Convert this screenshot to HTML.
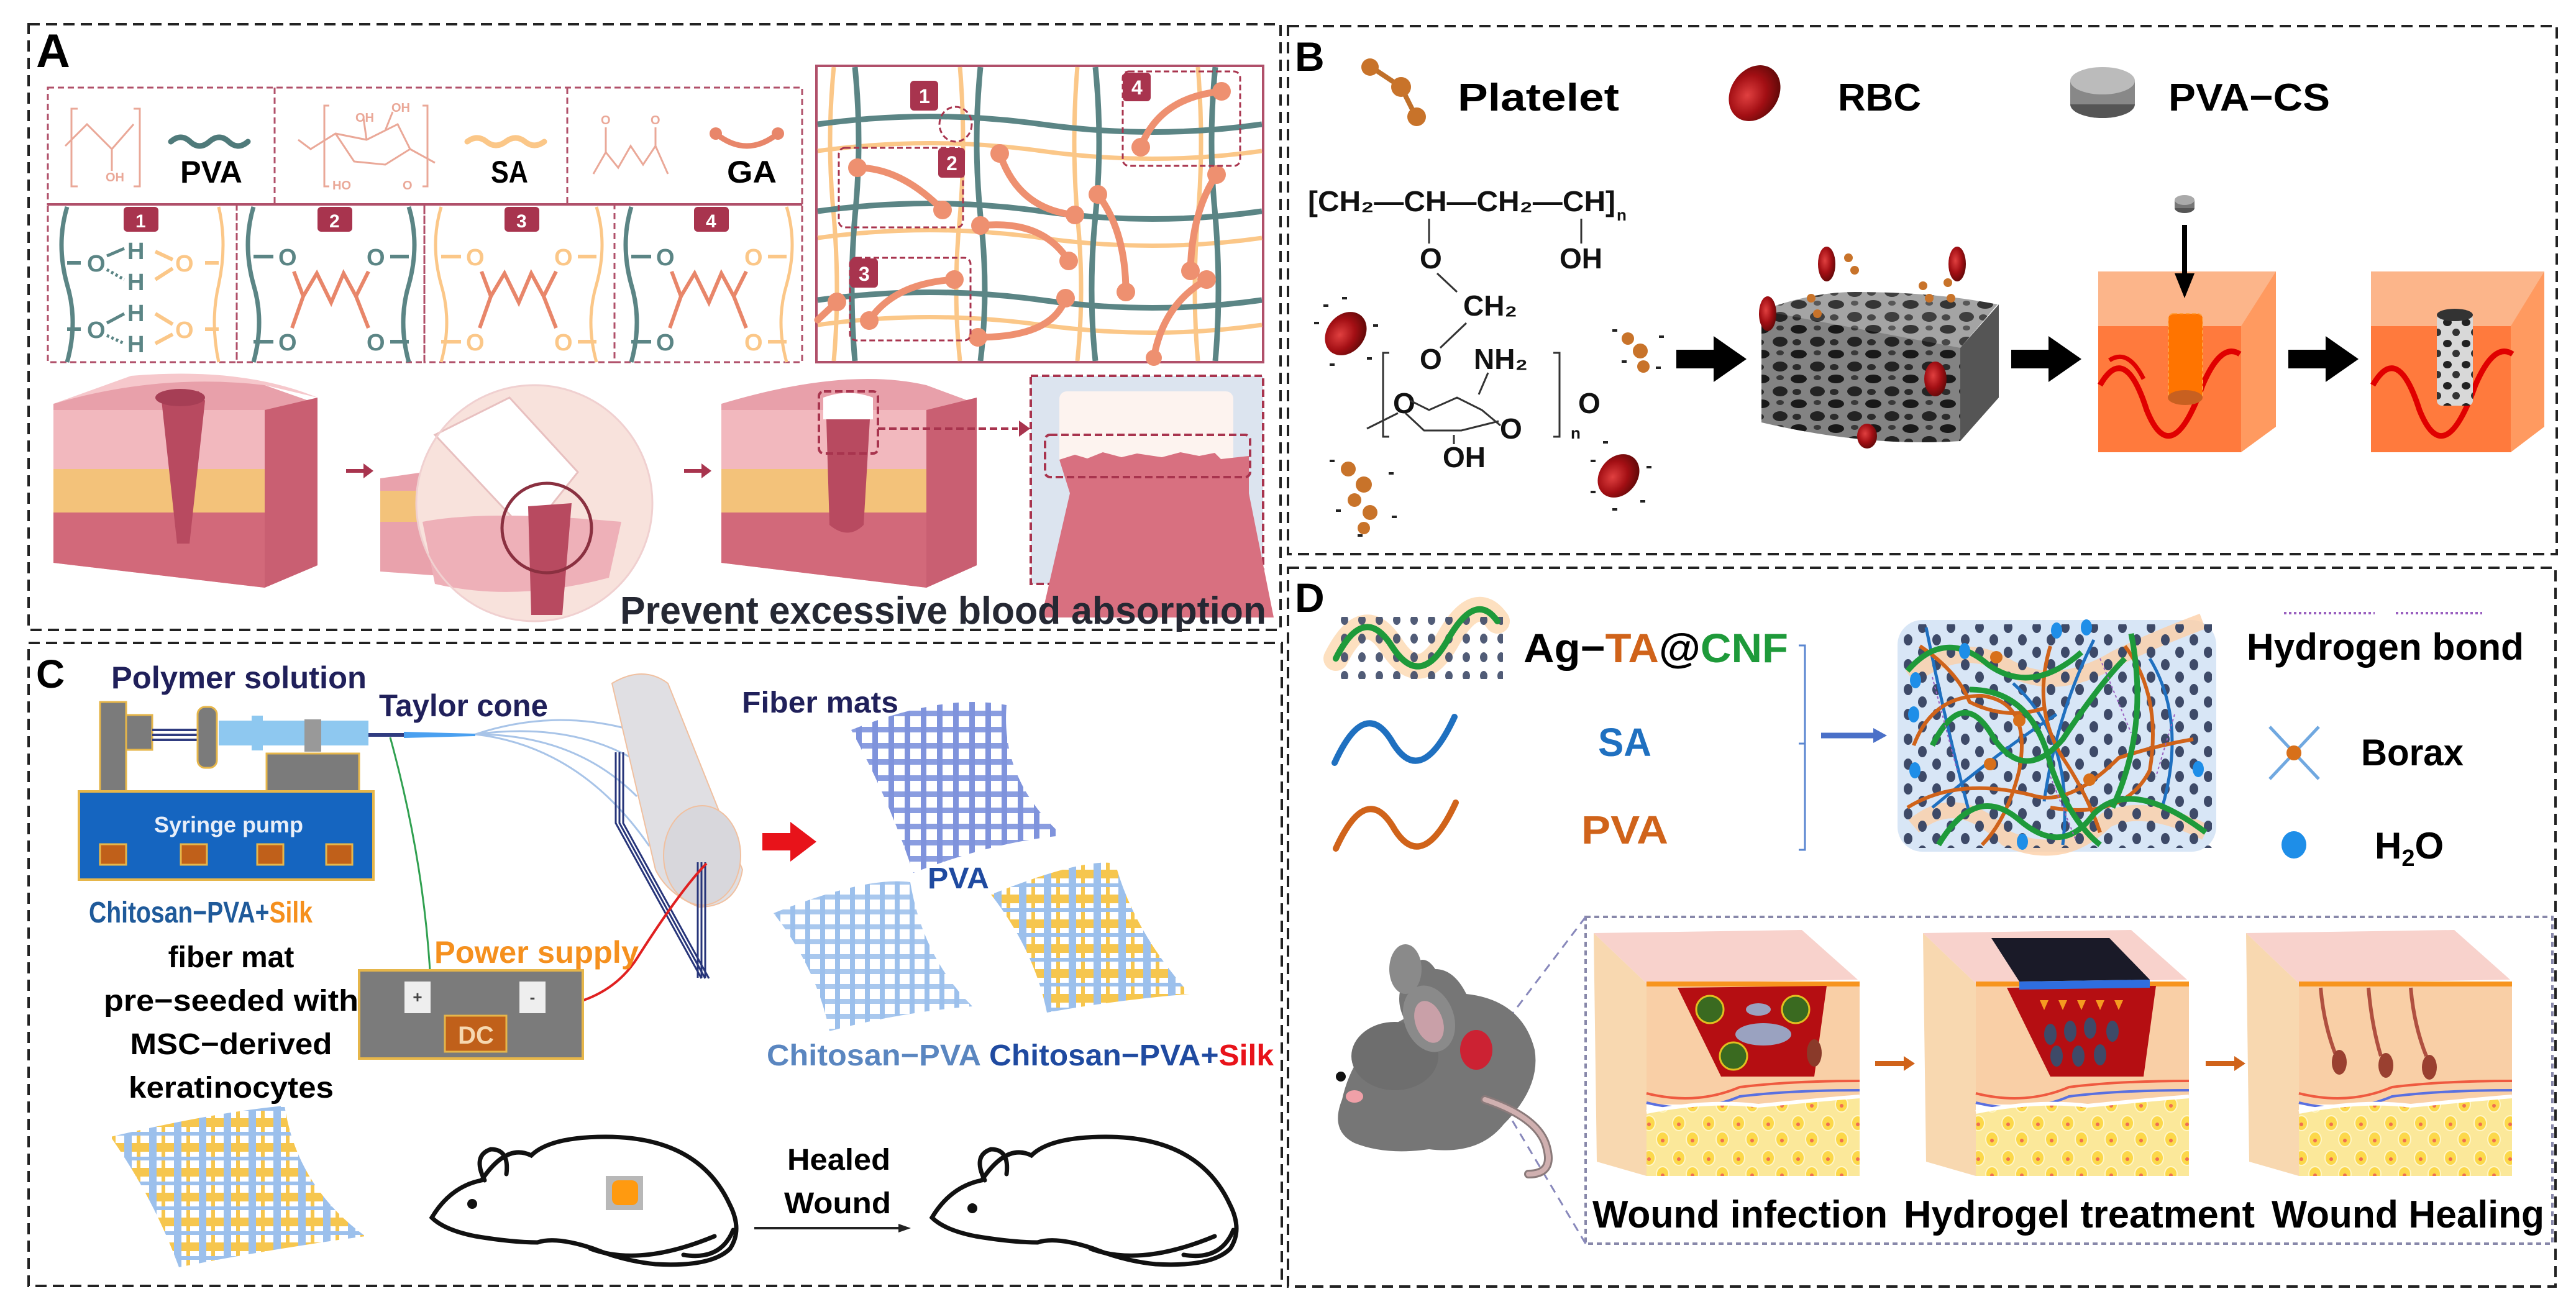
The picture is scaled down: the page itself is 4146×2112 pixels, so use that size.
<!DOCTYPE html>
<html><head><meta charset="utf-8"><style>
html,body{margin:0;padding:0;background:#fff}
svg{display:block}
text{font-family:"Liberation Sans",sans-serif;font-weight:bold}
</style></head><body>
<svg width="4146" height="2112" viewBox="0 0 4146 2112" xmlns="http://www.w3.org/2000/svg">
<defs>
<pattern id="fibB" width="26" height="26" patternUnits="userSpaceOnUse"><rect width="26" height="26" fill="none"/><rect x="0" y="0" width="26" height="9" fill="#8a9de0"/><rect x="0" y="0" width="9" height="26" fill="#7f93dc"/></pattern>
<pattern id="fibL" width="24" height="24" patternUnits="userSpaceOnUse"><rect x="0" y="0" width="24" height="8" fill="#a9c8ee"/><rect x="0" y="0" width="8" height="24" fill="#9cc0ec"/></pattern>
<pattern id="fibS" width="40" height="40" patternUnits="userSpaceOnUse"><rect width="40" height="40" fill="#fff"/><rect x="0" y="0" width="40" height="14" fill="#f6c64e"/><rect x="0" y="0" width="12" height="40" fill="#9cc0ec"/><rect x="20" y="0" width="6" height="40" fill="#f6c64e"/><rect x="0" y="22" width="40" height="6" fill="#9cc0ec"/></pattern>
<pattern id="sponge" width="60" height="40" patternUnits="userSpaceOnUse"><rect width="60" height="40" fill="#9a9a9a"/><ellipse cx="15" cy="10" rx="13" ry="7" fill="#1e1e1e"/><ellipse cx="45" cy="30" rx="12" ry="8" fill="#2a2a2a"/><ellipse cx="45" cy="8" rx="6" ry="4" fill="#444"/><ellipse cx="12" cy="31" rx="7" ry="5" fill="#333"/></pattern>
<pattern id="fat" width="48" height="56" patternUnits="userSpaceOnUse"><rect width="48" height="56" fill="#fbe89a"/><ellipse cx="14" cy="16" rx="10" ry="12" fill="#fcd84a" stroke="#fff6c8" stroke-width="2"/><ellipse cx="36" cy="42" rx="10" ry="12" fill="#fcd84a" stroke="#fff6c8" stroke-width="2"/><circle cx="14" cy="18" r="3" fill="#f07050"/><circle cx="36" cy="44" r="3" fill="#f07050"/></pattern>
<pattern id="gelDots" width="46" height="40" patternUnits="userSpaceOnUse"><ellipse cx="12" cy="10" rx="7" ry="9" fill="#3e4a68"/><ellipse cx="35" cy="30" rx="7" ry="9" fill="#3e4a68"/></pattern>
<pattern id="agdots" width="28" height="30" patternUnits="userSpaceOnUse"><ellipse cx="8" cy="8" rx="6" ry="8" fill="#3e4a68"/></pattern>
<pattern id="porous" width="30" height="34" patternUnits="userSpaceOnUse"><rect width="30" height="34" fill="#d8d8d8"/><ellipse cx="9" cy="9" rx="7" ry="6" fill="#222"/><ellipse cx="23" cy="25" rx="6" ry="6" fill="#333"/></pattern>
<radialGradient id="rbc" cx="0.4" cy="0.4" r="0.6"><stop offset="0" stop-color="#e04040"/><stop offset="0.6" stop-color="#a30f14"/><stop offset="1" stop-color="#6a0a0a"/></radialGradient>
</defs>

<!-- ======== PANEL A ======== -->
<rect x="46" y="39" width="2015" height="975" fill="none" stroke="#222" stroke-width="4" stroke-dasharray="18 10"/>
<text x="58" y="108" font-size="76">A</text>
<!-- chem top boxes -->
<g fill="none" stroke="#b0506a" stroke-width="3" stroke-dasharray="10 6">
<rect x="77" y="141" width="1214" height="188"/>
<line x1="442" y1="141" x2="442" y2="329"/><line x1="913" y1="141" x2="913" y2="329"/>
<rect x="77" y="329" width="304" height="254"/><rect x="381" y="329" width="302" height="254"/><rect x="683" y="329" width="306" height="254"/><rect x="989" y="329" width="302" height="254"/>
</g>
<line x1="77" y1="329" x2="1291" y2="329" stroke="#b0506a" stroke-width="4"/>
<!-- PVA chem -->
<g stroke="#eaa898" stroke-width="3" fill="none">
<path d="M125 175 L115 175 L115 300 L125 300"/><path d="M215 175 L225 175 L225 300 L215 300"/>
<path d="M105 235 L140 200 L180 240 L215 200"/><line x1="180" y1="240" x2="180" y2="275"/>
</g>
<text x="170" y="292" font-size="20" fill="#eaa898" font-weight="normal">OH</text>
<path d="M275 228 q16 -14 31 0 t31 0 t31 0 t31 0" stroke="#4f7a7a" stroke-width="9" fill="none" stroke-linecap="round"/>
<text x="290" y="294" font-size="50" textLength="100" lengthAdjust="spacingAndGlyphs">PVA</text>
<!-- SA chem -->
<g stroke="#eaa898" stroke-width="3" fill="none">
<path d="M530 170 L522 170 L522 300 L530 300"/><path d="M680 170 L688 170 L688 300 L680 300"/>
<path d="M480 225 L500 240 L540 215 L590 225 L640 200 L660 240 L620 265 L570 260 L540 215"/>
<line x1="660" y1="240" x2="700" y2="262"/><line x1="590" y1="225" x2="585" y2="190"/><line x1="620" y1="210" x2="632" y2="180"/>
</g>
<text x="572" y="196" font-size="20" fill="#eaa898" font-weight="normal">OH</text><text x="630" y="180" font-size="20" fill="#eaa898" font-weight="normal">OH</text>
<text x="535" y="305" font-size="20" fill="#eaa898" font-weight="normal">HO</text><text x="648" y="305" font-size="20" fill="#eaa898" font-weight="normal">O</text>
<path d="M752 228 q16 -12 31 0 t31 0 t31 0 t31 0" stroke="#fbc788" stroke-width="9" fill="none" stroke-linecap="round"/>
<text x="790" y="294" font-size="50" textLength="60" lengthAdjust="spacingAndGlyphs">SA</text>
<!-- GA chem -->
<g stroke="#eaa898" stroke-width="3" fill="none">
<path d="M955 280 L975 245 L995 270 L1015 235 L1035 265 L1055 235 L1075 280"/><line x1="975" y1="245" x2="975" y2="205"/><line x1="1055" y1="235" x2="1055" y2="205"/>
</g>
<text x="967" y="200" font-size="20" fill="#eaa898" font-weight="normal">O</text><text x="1047" y="200" font-size="20" fill="#eaa898" font-weight="normal">O</text>
<path d="M1152 215 q50 40 100 0" stroke="#e8866a" stroke-width="9" fill="none"/><circle cx="1152" cy="215" r="10" fill="#e8866a"/><circle cx="1252" cy="215" r="10" fill="#e8866a"/>
<text x="1170" y="294" font-size="50" textLength="80" lengthAdjust="spacingAndGlyphs">GA</text>
<!-- badges -->
<g fill="#a8344e"><rect x="199" y="333" width="56" height="40" rx="6"/><rect x="511" y="333" width="56" height="40" rx="6"/><rect x="812" y="333" width="56" height="40" rx="6"/><rect x="1117" y="333" width="56" height="40" rx="6"/></g>
<g fill="#fff" font-size="30"><text x="218" y="366">1</text><text x="530" y="366">2</text><text x="831" y="366">3</text><text x="1136" y="366">4</text></g>
<!-- box1 -->
<path d="M108 333 q-18 60 0 125 q18 60 0 125" stroke="#5b8585" stroke-width="7" fill="none"/>
<path d="M352 333 q14 60 0 125 q-14 60 0 125" stroke="#fbc788" stroke-width="5" fill="none"/>
<g stroke="#5b8585" stroke-width="6"><line x1="108" y1="423" x2="130" y2="423"/><line x1="108" y1="530" x2="130" y2="530"/></g>
<g stroke="#fbc788" stroke-width="6"><line x1="330" y1="423" x2="352" y2="423"/><line x1="330" y1="530" x2="352" y2="530"/><line x1="250" y1="405" x2="278" y2="418"/><line x1="250" y1="450" x2="278" y2="432"/><line x1="250" y1="505" x2="278" y2="522"/><line x1="250" y1="553" x2="278" y2="538"/></g>
<g stroke="#5b8585" stroke-width="5"><line x1="172" y1="412" x2="200" y2="400"/><line x1="172" y1="520" x2="200" y2="505"/></g>
<g stroke="#5b8585" stroke-width="5" stroke-dasharray="4 4"><line x1="172" y1="434" x2="200" y2="450"/><line x1="172" y1="540" x2="200" y2="553"/></g>
<g font-size="38" fill="#5b8585" font-weight="normal"><text x="140" y="437">O</text><text x="140" y="544">O</text><text x="205" y="417">H</text><text x="205" y="467">H</text><text x="205" y="517">H</text><text x="205" y="567">H</text></g>
<g font-size="38" fill="#fbc788" font-weight="normal"><text x="282" y="437">O</text><text x="282" y="544">O</text></g>
<!-- zigzag boxes -->
<g id="zz">
<path d="M408 333 q-18 60 0 125 q18 60 0 125" stroke="#5b8585" stroke-width="7" fill="none"/>
<path d="M658 333 q18 60 0 125 q-18 60 0 125" stroke="#5b8585" stroke-width="7" fill="none"/>
<g stroke="#5b8585" stroke-width="6"><line x1="408" y1="413" x2="440" y2="413"/><line x1="408" y1="550" x2="440" y2="550"/><line x1="628" y1="413" x2="658" y2="413"/><line x1="628" y1="550" x2="658" y2="550"/></g>
<g font-size="38" fill="#5b8585" font-weight="normal"><text x="448" y="427">O</text><text x="448" y="564">O</text><text x="590" y="427">O</text><text x="590" y="564">O</text></g>
<polyline points="473,437 488,477 470,528" fill="none" stroke="#e8866a" stroke-width="6"/>
<polyline points="488,477 510,440 533,487 553,440 573,477 593,437" fill="none" stroke="#e8866a" stroke-width="6"/>
<polyline points="573,477 593,528" fill="none" stroke="#e8866a" stroke-width="6"/>
</g>
<g transform="translate(302 0)">
<path d="M408 333 q-18 60 0 125 q18 60 0 125" stroke="#fbc788" stroke-width="5" fill="none"/>
<path d="M658 333 q18 60 0 125 q-18 60 0 125" stroke="#fbc788" stroke-width="5" fill="none"/>
<g stroke="#fbc788" stroke-width="6"><line x1="408" y1="413" x2="440" y2="413"/><line x1="408" y1="550" x2="440" y2="550"/><line x1="628" y1="413" x2="658" y2="413"/><line x1="628" y1="550" x2="658" y2="550"/></g>
<g font-size="38" fill="#fbc788" font-weight="normal"><text x="448" y="427">O</text><text x="448" y="564">O</text><text x="590" y="427">O</text><text x="590" y="564">O</text></g>
<polyline points="473,437 488,477 470,528" fill="none" stroke="#e8866a" stroke-width="6"/>
<polyline points="488,477 510,440 533,487 553,440 573,477 593,437" fill="none" stroke="#e8866a" stroke-width="6"/>
<polyline points="573,477 593,528" fill="none" stroke="#e8866a" stroke-width="6"/>
</g>
<g transform="translate(608 0)">
<path d="M408 333 q-18 60 0 125 q18 60 0 125" stroke="#5b8585" stroke-width="7" fill="none"/>
<path d="M658 333 q18 60 0 125 q-18 60 0 125" stroke="#fbc788" stroke-width="5" fill="none"/>
<g stroke="#5b8585" stroke-width="6"><line x1="408" y1="413" x2="440" y2="413"/><line x1="408" y1="550" x2="440" y2="550"/></g>
<g stroke="#fbc788" stroke-width="6"><line x1="628" y1="413" x2="658" y2="413"/><line x1="628" y1="550" x2="658" y2="550"/></g>
<g font-size="38" font-weight="normal"><text x="448" y="427" fill="#5b8585">O</text><text x="448" y="564" fill="#5b8585">O</text><text x="590" y="427" fill="#fbc788">O</text><text x="590" y="564" fill="#fbc788">O</text></g>
<polyline points="473,437 488,477 470,528" fill="none" stroke="#e8866a" stroke-width="6"/>
<polyline points="488,477 510,440 533,487 553,440 573,477 593,437" fill="none" stroke="#e8866a" stroke-width="6"/>
<polyline points="573,477 593,528" fill="none" stroke="#e8866a" stroke-width="6"/>
</g>
<!-- network box -->
<rect x="1314" y="106" width="719" height="477" fill="#fff" stroke="#b0506a" stroke-width="4"/>
<g fill="none" stroke="#fbc788" stroke-width="7">
<path d="M1342 108 q-12 120 0 240 q10 120 0 233"/><path d="M1545 108 q10 120 0 240 q-12 120 0 233"/><path d="M1734 108 q-10 120 0 240 q12 120 0 233"/><path d="M1928 108 q10 120 0 240 q-10 120 0 233"/>
<path d="M1316 243 q180 -25 360 0 t355 0"/><path d="M1316 383 q180 -25 360 0 t355 0"/><path d="M1316 523 q180 -25 360 0 t355 0"/>
</g>
<g fill="none" stroke="#5b8585" stroke-width="9">
<path d="M1376 108 q12 120 0 240 q-10 120 0 233"/><path d="M1578 108 q-12 120 0 240 q14 120 0 233"/><path d="M1763 108 q12 120 0 240 q-12 120 0 233"/><path d="M1956 108 q-12 120 0 240 q10 120 0 233"/>
<path d="M1316 200 q180 -25 360 0 t355 0"/><path d="M1316 340 q180 -25 360 0 t355 0"/><path d="M1316 483 q180 -25 360 0 t355 0"/>
</g>
<g fill="none" stroke="#ee9070" stroke-width="11" stroke-linecap="round">
<path d="M1380 270 q70 0 137 68"/><path d="M1609 247 q30 90 121 99"/><path d="M1578 363 q100 -10 142 57"/><path d="M1767 313 q45 60 45 157"/><path d="M1958 281 q-40 60 -42 155"/><path d="M1836 237 q30 -80 130 -90"/><path d="M1399 516 q40 -60 137 -66"/><path d="M1574 543 q120 0 141 -63"/><path d="M1942 450 q-70 40 -85 126"/><path d="M1316 515 l31 -29"/>
</g>
<g fill="#ee9070">
<circle cx="1380" cy="270" r="15"/><circle cx="1517" cy="338" r="15"/><circle cx="1609" cy="247" r="15"/><circle cx="1730" cy="346" r="15"/><circle cx="1578" cy="363" r="15"/><circle cx="1720" cy="420" r="15"/><circle cx="1767" cy="313" r="15"/><circle cx="1812" cy="470" r="15"/><circle cx="1958" cy="281" r="15"/><circle cx="1916" cy="436" r="15"/><circle cx="1836" cy="237" r="15"/><circle cx="1966" cy="147" r="15"/><circle cx="1399" cy="516" r="15"/><circle cx="1536" cy="450" r="15"/><circle cx="1574" cy="543" r="15"/><circle cx="1715" cy="480" r="15"/><circle cx="1942" cy="450" r="15"/><circle cx="1857" cy="576" r="13"/><circle cx="1347" cy="486" r="15"/>
</g>
<g fill="none" stroke="#a8344e" stroke-width="3" stroke-dasharray="9 5">
<rect x="1350" y="238" width="200" height="128" rx="10"/><rect x="1368" y="415" width="194" height="133" rx="10"/><rect x="1807" y="115" width="189" height="152" rx="10"/><ellipse cx="1538" cy="200" rx="26" ry="28"/>
</g>
<g fill="#a8344e"><rect x="1465" y="130" width="45" height="48" rx="6"/><rect x="1510" y="238" width="43" height="48" rx="6"/><rect x="1368" y="416" width="45" height="47" rx="6"/><rect x="1807" y="117" width="45" height="46" rx="6"/></g>
<g fill="#fff" font-size="32"><text x="1479" y="166">1</text><text x="1523" y="274">2</text><text x="1382" y="452">3</text><text x="1821" y="152">4</text></g>
<!-- skin illustrations A -->
<g>
<path d="M86 650 q200 -60 340 -30 l85 30 l0 260 l-85 36 l-340 -40z" fill="#e8a0aa"/>
<path d="M86 650 q170 -50 340 -30 l85 20 q-120 -50 -300 -35z" fill="#f6c8cc"/>
<rect x="86" y="660" width="340" height="95" fill="#f2b8be"/>
<rect x="86" y="755" width="340" height="70" fill="#f3c27a"/>
<path d="M86 825 l340 0 l0 121 l-340 -40z" fill="#d2697a"/>
<path d="M426 660 l85 -20 l0 270 l-85 36z" fill="#c95f72"/>
<path d="M320 630 q-40 0 -60 15 l25 230 l20 0 l25 -230 q-10 -15 -10 -15z" fill="#b84a60"/>
<ellipse cx="290" cy="640" rx="40" ry="14" fill="#a63e55"/>
</g>
<path d="M557 758 l30 0" stroke="#a8344e" stroke-width="6"/><path d="M585 746 l16 12 l-16 12z" fill="#a8344e"/>
<g>
<path d="M612 770 l140 -20 l0 180 l-140 -10z" fill="#e9a2ac"/>
<rect x="612" y="790" width="140" height="50" fill="#f3c27a"/>
<circle cx="860" cy="810" r="190" fill="#f8e2dc"/>
<path d="M700 700 l120 -60 l110 120 l-80 100z" fill="#fff" stroke="#e8c0c0" stroke-width="3"/>
<path d="M680 840 q100 -20 320 0 l-20 90 q-150 40 -280 10z" fill="#eeb0b8"/>
<path d="M850 815 l70 -5 l-15 180 l-50 0z" fill="#b84a60"/>
<circle cx="880" cy="850" r="72" fill="none" stroke="#8a3040" stroke-width="5"/>
<circle cx="860" cy="810" r="190" fill="none" stroke="#f0d0d0" stroke-width="3"/>
</g>
<path d="M1101 758 l30 0" stroke="#a8344e" stroke-width="6"/><path d="M1129 746 l16 12 l-16 12z" fill="#a8344e"/>
<g>
<path d="M1161 650 q200 -60 330 -30 l81 30 l0 260 l-81 36 l-330 -40z" fill="#e8a0aa"/>
<rect x="1161" y="660" width="330" height="95" fill="#f2b8be"/>
<rect x="1161" y="755" width="330" height="70" fill="#f3c27a"/>
<path d="M1161 825 l330 0 l0 121 l-330 -40z" fill="#d2697a"/>
<path d="M1491 660 l81 -20 l0 270 l-81 36z" fill="#c95f72"/>
<path d="M1400 675 l-70 0 l5 170 q30 25 55 0z" fill="#b84a60"/>
<path d="M1325 640 q40 -15 80 0 l0 35 l-80 0z" fill="#fff"/>
<rect x="1318" y="630" width="95" height="100" rx="8" fill="none" stroke="#a8344e" stroke-width="4" stroke-dasharray="12 6"/>
<path d="M1413 690 l225 0" stroke="#a8344e" stroke-width="4" stroke-dasharray="12 6"/><path d="M1640 677 l18 13 l-18 13z" fill="#a8344e"/>
</g>
<rect x="1659" y="605" width="374" height="335" fill="#dce4ef" stroke="#a8344e" stroke-width="4" stroke-dasharray="12 6"/>
<rect x="1705" y="630" width="280" height="120" rx="12" fill="#fdf3ef"/>
<path d="M1705 740 l25 -8 l20 6 l25 -10 l30 8 l25 -6 l40 6 l30 -8 l30 6 l25 -5 l10 10 l45 -5 l0 60 l40 200 l-374 0 l46 -200z" fill="#d87080"/>
<rect x="1682" y="700" width="330" height="68" rx="8" fill="none" stroke="#a8344e" stroke-width="4" stroke-dasharray="12 6"/>
<text x="998" y="1004" font-size="62" fill="#252833" textLength="1040" lengthAdjust="spacingAndGlyphs">Prevent excessive blood absorption</text>

<!-- ======== PANEL B ======== -->
<rect x="2073" y="42" width="2042" height="850" fill="none" stroke="#222" stroke-width="4" stroke-dasharray="18 10"/>
<text x="2084" y="114" font-size="66">B</text>
<!-- platelet icon -->
<g stroke="#c0702a" stroke-width="8"><line x1="2210" y1="110" x2="2255" y2="140"/><line x1="2255" y1="140" x2="2275" y2="180"/></g>
<g fill="#c8732a"><circle cx="2205" cy="108" r="14"/><circle cx="2255" cy="140" r="16"/><circle cx="2280" cy="188" r="15"/></g>
<text x="2346" y="178" font-size="62" textLength="260" lengthAdjust="spacingAndGlyphs">Platelet</text>
<ellipse cx="2824" cy="150" rx="48" ry="38" fill="url(#rbc)" transform="rotate(-55 2824 150)"/>
<text x="2958" y="178" font-size="62" textLength="134" lengthAdjust="spacingAndGlyphs">RBC</text>
<ellipse cx="3384" cy="168" rx="52" ry="22" fill="#555"/><rect x="3332" y="130" width="104" height="38" fill="#888"/><ellipse cx="3384" cy="130" rx="52" ry="22" fill="#bbb"/>
<text x="3490" y="178" font-size="62" textLength="260" lengthAdjust="spacingAndGlyphs">PVA−CS</text>
<!-- chemistry -->
<g font-family="Liberation Sans" font-size="46" font-weight="normal" fill="#111">
<text x="2105" y="340" textLength="495" lengthAdjust="spacingAndGlyphs">[CH₂—CH—CH₂—CH]</text><text x="2602" y="355" font-size="26">n</text>
<text x="2285" y="432">O</text><text x="2510" y="432">OH</text>
<text x="2355" y="508">CH₂</text>
<text x="2285" y="594">O</text><text x="2372" y="594">NH₂</text>
<text x="2242" y="665">O</text><text x="2414" y="706">O</text><text x="2540" y="665">O</text>
<text x="2322" y="752">OH</text><text x="2528" y="706" font-size="26">n</text>
</g>
<g stroke="#333" stroke-width="3" fill="none">
<line x1="2300" y1="352" x2="2300" y2="392"/><line x1="2545" y1="352" x2="2545" y2="392"/>
<line x1="2313" y1="440" x2="2345" y2="470"/><line x1="2360" y1="520" x2="2318" y2="560"/>
<path d="M2236 568 l-10 0 l0 135 l10 0"/><path d="M2500 568 l10 0 l0 135 l-10 0"/>
<path d="M2200 690 l50 -25 M2270 645 l30 15 l45 -20 l40 20 l30 25 M2262 665 l30 28 l60 0 l60 -15"/>
<line x1="2380" y1="635" x2="2395" y2="600"/><line x1="2340" y1="700" x2="2340" y2="715"/>
</g>
<!-- RBC & platelets with dashes -->
<ellipse cx="2166" cy="537" rx="38" ry="30" fill="url(#rbc)" transform="rotate(-50 2166 537)"/>
<ellipse cx="2605" cy="766" rx="38" ry="30" fill="url(#rbc)" transform="rotate(-50 2605 766)"/>
<g fill="#222"><rect x="2115" y="518" width="8" height="4"/><rect x="2210" y="522" width="8" height="4"/><rect x="2130" y="490" width="8" height="4"/><rect x="2200" y="575" width="8" height="4"/><rect x="2140" y="585" width="8" height="4"/><rect x="2160" y="478" width="8" height="4"/>
<rect x="2560" y="740" width="8" height="4"/><rect x="2650" y="750" width="8" height="4"/><rect x="2580" y="710" width="8" height="4"/><rect x="2640" y="805" width="8" height="4"/><rect x="2595" y="818" width="8" height="4"/><rect x="2560" y="790" width="8" height="4"/>
<rect x="2595" y="530" width="8" height="4"/><rect x="2670" y="540" width="8" height="4"/><rect x="2610" y="580" width="8" height="4"/><rect x="2665" y="590" width="8" height="4"/>
<rect x="2140" y="740" width="8" height="4"/><rect x="2235" y="760" width="8" height="4"/><rect x="2150" y="820" width="8" height="4"/><rect x="2240" y="830" width="8" height="4"/><rect x="2185" y="860" width="8" height="4"/></g>
<g fill="#c8732a"><circle cx="2620" cy="545" r="10"/><circle cx="2640" cy="565" r="12"/><circle cx="2645" cy="590" r="10"/>
<circle cx="2170" cy="755" r="12"/><circle cx="2195" cy="780" r="13"/><circle cx="2180" cy="805" r="11"/><circle cx="2205" cy="825" r="12"/><circle cx="2195" cy="850" r="10"/></g>
<!-- arrows -->
<g fill="#000"><path d="M2698 563 l60 0 l0 -22 l53 37 l-53 37 l0 -22 l-60 0z"/><path d="M3237 563 l60 0 l0 -22 l53 37 l-53 37 l0 -22 l-60 0z"/><path d="M3683 563 l60 0 l0 -22 l53 37 l-53 37 l0 -22 l-60 0z"/></g>
<!-- sponge -->
<path d="M2835 500 q80 -30 150 -30 q130 0 230 20 l-60 70 l-310 0z" fill="url(#sponge)" opacity="0.9"/>
<path d="M2835 500 l320 60 l0 150 q-150 10 -320 -30z" fill="url(#sponge)"/>
<path d="M3155 560 l62 -70 l0 150 l-62 70z" fill="#555"/>
<path d="M2835 500 l320 60 l0 150 q-150 10 -320 -30z" fill="#000" opacity="0.15"/>
<g><ellipse cx="2940" cy="425" rx="14" ry="28" fill="url(#rbc)"/><ellipse cx="3150" cy="425" rx="14" ry="28" fill="url(#rbc)"/><ellipse cx="2845" cy="505" rx="14" ry="28" fill="url(#rbc)"/><ellipse cx="3005" cy="702" rx="16" ry="20" fill="url(#rbc)"/><ellipse cx="3115" cy="610" rx="18" ry="28" fill="url(#rbc)"/></g>
<g fill="#c8732a"><circle cx="2975" cy="415" r="7"/><circle cx="2985" cy="435" r="7"/><circle cx="3095" cy="460" r="7"/><circle cx="3105" cy="480" r="7"/><circle cx="3135" cy="455" r="7"/><circle cx="3140" cy="480" r="7"/><circle cx="2915" cy="480" r="7"/><circle cx="2925" cy="505" r="7"/></g>
<!-- block 1 -->
<path d="M3377 525 l0 -88 l286 0 l0 88z" fill="#fcb58a"/>
<rect x="3377" y="525" width="230" height="203" fill="#ff7a3d"/>
<path d="M3607 525 l56 -88 l0 250 l-56 41z" fill="#ff9a60"/>
<path d="M3380 620 q40 -70 75 40 q40 100 90 -40 q30 -70 60 -50" fill="none" stroke="#e00000" stroke-width="9"/>
<path d="M3395 580 q30 -20 55 30" fill="none" stroke="#e00000" stroke-width="7"/>
<rect x="3490" y="505" width="55" height="140" rx="8" fill="#ff7400" stroke="#ffa040" stroke-width="2" stroke-dasharray="6 4"/>
<ellipse cx="3517" cy="640" rx="28" ry="12" fill="#c86020"/>
<ellipse cx="3516" cy="335" rx="16" ry="8" fill="#555"/><rect x="3500" y="322" width="32" height="13" fill="#777"/><ellipse cx="3516" cy="322" rx="16" ry="8" fill="#aaa"/>
<line x1="3516" y1="362" x2="3516" y2="445" stroke="#000" stroke-width="8"/><path d="M3500 440 l16 40 l16 -40z" fill="#000"/>
<!-- block 2 -->
<path d="M3816 525 l0 -88 l279 0 l0 88z" fill="#fcb58a"/>
<rect x="3816" y="525" width="225" height="203" fill="#ff7a3d"/>
<path d="M4041 525 l54 -88 l0 250 l-54 41z" fill="#ff9a60"/>
<path d="M3819 620 q40 -70 75 40 q40 100 90 -40 q30 -70 60 -50" fill="none" stroke="#e00000" stroke-width="9"/>
<rect x="3922" y="505" width="58" height="148" rx="8" fill="url(#porous)"/>
<ellipse cx="3951" cy="507" rx="29" ry="10" fill="#333"/>

<!-- ======== PANEL C ======== -->
<rect x="46" y="1035" width="2017" height="1035" fill="none" stroke="#222" stroke-width="4" stroke-dasharray="18 10"/>
<text x="58" y="1107" font-size="64">C</text>
<text x="179" y="1108" font-size="50" fill="#20205a" textLength="411" lengthAdjust="spacingAndGlyphs">Polymer solution</text>
<text x="610" y="1153" font-size="50" fill="#20205a" textLength="272" lengthAdjust="spacingAndGlyphs">Taylor cone</text>
<!-- pump -->
<rect x="161" y="1130" width="42" height="144" fill="#7b7b7b" stroke="#e6b64a" stroke-width="3"/>
<rect x="203" y="1151" width="42" height="56" fill="#7b7b7b" stroke="#e6b64a" stroke-width="3"/>
<g stroke="#303c80" stroke-width="4"><line x1="245" y1="1175" x2="322" y2="1175"/><line x1="245" y1="1183" x2="322" y2="1183"/><line x1="245" y1="1191" x2="322" y2="1191"/></g>
<rect x="318" y="1138" width="31" height="98" rx="12" fill="#7b7b7b" stroke="#e6b64a" stroke-width="3"/>
<rect x="352" y="1160" width="241" height="40" fill="#8ec8f0"/><rect x="405" y="1152" width="18" height="56" fill="#8ec8f0"/>
<rect x="490" y="1158" width="27" height="52" fill="#999"/>
<rect x="429" y="1213" width="149" height="61" fill="#7b7b7b" stroke="#e6b64a" stroke-width="3"/>
<rect x="127" y="1274" width="474" height="142" fill="#1565c0" stroke="#e6b64a" stroke-width="4"/>
<text x="368" y="1340" font-size="36" fill="#e8eef8" text-anchor="middle">Syringe pump</text>
<g fill="#c0601a" stroke="#e6b64a" stroke-width="3"><rect x="161" y="1359" width="42" height="33"/><rect x="291" y="1359" width="42" height="33"/><rect x="414" y="1359" width="42" height="33"/><rect x="525" y="1359" width="42" height="33"/></g>
<line x1="593" y1="1183" x2="650" y2="1183" stroke="#303c80" stroke-width="6"/>
<path d="M650 1178 l115 3 l0 4 l-115 3z" fill="#4aa0f0"/>
<!-- fibers -->
<g fill="none" stroke="#a8c4e8" stroke-width="3"><path d="M765 1182 q120 -40 240 -10"/><path d="M765 1182 q150 -20 255 40"/><path d="M765 1182 q160 0 260 100"/><path d="M765 1182 q170 20 280 180"/></g>
<!-- collector -->
<path d="M985 1100 q50 -30 90 0 l120 300 q-10 60 -70 60 q-50 -20 -70 -60z" fill="#e0dfe3" stroke="#f0c0a0" stroke-width="2"/>
<ellipse cx="1130" cy="1377" rx="62" ry="80" fill="#d8d7dc" stroke="#f0c0a0" stroke-width="2"/>
<g fill="none" stroke="#27357a" stroke-width="3"><path d="M991 1211 l0 114 l138 250 M997 1211 l0 114 l138 250 M1003 1211 l0 114 l138 250"/><path d="M1123 1388 l0 186 M1129 1388 l0 186 M1135 1388 l0 186"/></g>
<path d="M1227 1341 l45 0 l0 -18 l42 32 l-42 32 l0 -18 l-45 0z" fill="#e8131a"/>
<!-- wires -->
<path d="M628 1187 q55 200 65 393" fill="none" stroke="#30a050" stroke-width="3"/>
<path d="M880 1623 q100 -10 145 -80 q70 -110 112 -153" fill="none" stroke="#e02020" stroke-width="4"/>
<!-- DC -->
<rect x="578" y="1562" width="360" height="142" fill="#7b7b7b" stroke="#e6b64a" stroke-width="4"/>
<rect x="651" y="1580" width="42" height="51" fill="#eee"/><rect x="836" y="1580" width="42" height="51" fill="#eee"/>
<text x="672" y="1614" font-size="26" text-anchor="middle" fill="#444" font-weight="normal">+</text><text x="857" y="1614" font-size="26" text-anchor="middle" fill="#444" font-weight="normal">-</text>
<rect x="716" y="1635" width="99" height="58" fill="#c0601a" stroke="#e6b64a" stroke-width="3"/>
<text x="766" y="1680" font-size="40" text-anchor="middle" fill="#f6d8b0" font-weight="normal">DC</text>
<text x="699" y="1550" font-size="50" fill="#f5901e" textLength="329" lengthAdjust="spacingAndGlyphs">Power supply</text>
<!-- left texts -->
<text x="143" y="1485" font-size="48" fill="#1f5a9a" textLength="360" lengthAdjust="spacingAndGlyphs">Chitosan−PVA+<tspan fill="#f5901e">Silk</tspan></text>
<g font-size="48" fill="#000" text-anchor="middle">
<text x="372" y="1557">fiber mat</text><text x="372" y="1627" textLength="410" lengthAdjust="spacingAndGlyphs">pre−seeded with</text><text x="372" y="1697" textLength="325" lengthAdjust="spacingAndGlyphs">MSC−derived</text><text x="372" y="1767" textLength="330" lengthAdjust="spacingAndGlyphs">keratinocytes</text>
</g>
<!-- mats -->
<text x="1194" y="1147" font-size="48" fill="#20205a" textLength="252" lengthAdjust="spacingAndGlyphs">Fiber mats</text>
<path d="M1370 1175 q150 -60 250 -40 q-10 120 90 210 q-110 10 -240 60 q-40 -120 -100 -230z" fill="url(#fibB)"/>
<text x="1493" y="1430" font-size="48" fill="#1f4aa0" textLength="99" lengthAdjust="spacingAndGlyphs">PVA</text>
<path d="M1245 1470 q150 -60 220 -50 q20 120 100 200 q-120 10 -230 40 q-20 -100 -90 -190z" fill="url(#fibL)"/>
<path d="M1595 1440 q150 -60 200 -50 q30 110 120 210 q-120 10 -230 30 q-20 -100 -90 -190z" fill="url(#fibS)"/>
<text x="1234" y="1715" font-size="48" fill="#5a86c0" textLength="345" lengthAdjust="spacingAndGlyphs">Chitosan−PVA</text>
<text x="1592" y="1715" font-size="48" fill="#1f4aa0" textLength="458" lengthAdjust="spacingAndGlyphs">Chitosan−PVA+<tspan fill="#e8131a">Silk</tspan></text>
<path d="M178 1830 q170 -40 280 -50 q20 130 130 210 q-150 20 -300 50 q-40 -110 -110 -210z" fill="url(#fibS)"/>
<!-- mice -->
<g fill="none" stroke="#111" stroke-width="7" stroke-linecap="round">
<path d="M695 1960 q30 -50 80 -60 q40 -60 80 -40 q30 -30 120 -30 q150 0 200 110 q20 40 0 70 q-30 30 -120 25 q-50 -5 -100 -25 q-60 -20 -90 -10 q-40 0 -100 -10 q-50 -10 -70 -30z"/>
<path d="M780 1900 q-20 -40 10 -50 q30 0 25 40"/><path d="M950 2010 q80 30 200 -20"/><path d="M1100 2020 q60 10 80 -40"/>
<path d="M1500 1960 q30 -50 80 -60 q40 -60 80 -40 q30 -30 120 -30 q150 0 200 110 q20 40 0 70 q-30 30 -120 25 q-50 -5 -100 -25 q-60 -20 -90 -10 q-40 0 -100 -10 q-50 -10 -70 -30z"/>
<path d="M1585 1900 q-20 -40 10 -50 q30 0 25 40"/><path d="M1755 2010 q80 30 200 -20"/><path d="M1905 2020 q60 10 80 -40"/>
</g>
<circle cx="760" cy="1938" r="8" fill="#111"/><circle cx="1565" cy="1945" r="8" fill="#111"/>
<rect x="975" y="1893" width="60" height="55" fill="#888" opacity="0.6"/><rect x="985" y="1900" width="42" height="40" rx="10" fill="#ff9a10"/>
<text x="1267" y="1883" font-size="48" textLength="166" lengthAdjust="spacingAndGlyphs">Healed</text>
<text x="1262" y="1953" font-size="48" textLength="172" lengthAdjust="spacingAndGlyphs">Wound</text>
<line x1="1214" y1="1977" x2="1450" y2="1977" stroke="#222" stroke-width="4"/><path d="M1446 1970 l20 7 l-20 7z" fill="#222"/>

<!-- ======== PANEL D ======== -->
<rect x="2073" y="914" width="2040" height="1157" fill="none" stroke="#222" stroke-width="4" stroke-dasharray="18 10"/>
<text x="2084" y="985" font-size="66">D</text>
<!-- legend waves -->
<path d="M2150 1060 q45 -90 90 -20 t90 -10 t80 -30" fill="none" stroke="#fcd8b0" stroke-width="40" stroke-linecap="round" opacity="0.8"/>
<rect x="2146" y="993" width="273" height="100" fill="url(#agdots)" opacity="0.9"/>
<path d="M2150 1060 q45 -90 90 -20 t90 -10 t80 -30" fill="none" stroke="#1e9a3a" stroke-width="10" stroke-linecap="round"/>
<text x="2452" y="1066" font-size="66" textLength="426" lengthAdjust="spacingAndGlyphs">Ag−<tspan fill="#d0631a">TA</tspan>@<tspan fill="#1e9a3a">CNF</tspan></text>
<path d="M2148 1228 q50 -110 95 -30 q45 70 98 -44" fill="none" stroke="#1f70c0" stroke-width="10" stroke-linecap="round"/>
<text x="2572" y="1217" font-size="64" fill="#1f70c0" textLength="86" lengthAdjust="spacingAndGlyphs">SA</text>
<path d="M2150 1366 q50 -110 95 -30 q45 70 98 -44" fill="none" stroke="#d0631a" stroke-width="10" stroke-linecap="round"/>
<text x="2545" y="1358" font-size="64" fill="#d0631a" textLength="140" lengthAdjust="spacingAndGlyphs">PVA</text>
<path d="M2895 1039 l10 0 l0 329 l-10 0 M2895 1197 l10 0" fill="none" stroke="#5a86d0" stroke-width="3"/>
<line x1="2931" y1="1184" x2="3020" y2="1184" stroke="#4a70c8" stroke-width="9"/><path d="M3015 1172 l22 12 l-22 12z" fill="#4a70c8"/>
<!-- hydrogel -->
<rect x="3054" y="998" width="513" height="373" rx="40" fill="#d8e6f6"/>
<g fill="none" stroke="#fcd0a8" stroke-width="26" opacity="0.8">
<path d="M3075 1090 q80 -60 150 -20 q80 50 180 -10 q60 -30 140 -60"/><path d="M3080 1330 q70 -60 150 20 q90 40 160 -30 q60 -30 160 20"/>
</g>
<rect x="3060" y="1005" width="500" height="360" fill="url(#gelDots)"/>
<g fill="none" stroke="#1f70c0" stroke-width="5">
<path d="M3100 1010 q30 150 70 300"/><path d="M3370 1030 q-60 120 -80 260"/><path d="M3240 1100 q100 90 80 260"/><path d="M3460 1060 q60 100 20 240"/><path d="M3110 1300 q120 -100 200 -150"/>
</g>
<g fill="none" stroke="#d0631a" stroke-width="6">
<path d="M3090 1040 q60 40 80 90 q60 30 120 10"/><path d="M3080 1200 q30 -80 110 -80 q80 10 60 120 q-20 80 -60 120"/><path d="M3420 1040 q60 80 40 200 q-40 80 -160 60"/><path d="M3070 1300 q80 -50 200 -20 q60 20 140 -60 q60 -20 120 -30"/><path d="M3300 1040 q-30 100 20 180 q40 60 60 120"/>
</g>
<g fill="none" stroke="#1e9a3a" stroke-width="9">
<path d="M3070 1080 q60 -70 130 -10 q70 50 150 -20"/><path d="M3170 1110 q100 0 130 120 q30 90 80 130"/><path d="M3430 1020 q30 150 -30 280"/><path d="M3110 1200 q50 -100 100 -10 q50 70 110 0 q60 -90 100 -130"/><path d="M3120 1360 q60 -100 130 -40 q70 60 120 -10 q60 -60 180 30"/>
</g>
<g fill="none" stroke="#9a60c0" stroke-width="2" stroke-dasharray="4 4"><path d="M3110 1090 l40 150"/><path d="M3380 1060 l50 120"/><path d="M3300 1250 l40 100"/><path d="M3500 1150 l-30 100"/></g>
<g fill="#1e8ee8"><ellipse cx="3310" cy="1015" rx="9" ry="13"/><ellipse cx="3358" cy="1010" rx="9" ry="13"/><ellipse cx="3162" cy="1048" rx="9" ry="13"/><ellipse cx="3083" cy="1095" rx="9" ry="13"/><ellipse cx="3080" cy="1150" rx="9" ry="13"/><ellipse cx="3082" cy="1240" rx="9" ry="13"/><ellipse cx="3538" cy="1238" rx="9" ry="13"/><ellipse cx="3255" cy="1355" rx="9" ry="13"/></g>
<g fill="#d8701a"><circle cx="3213" cy="1058" r="10"/><circle cx="3250" cy="1160" r="10"/><circle cx="3203" cy="1230" r="10"/><circle cx="3363" cy="1255" r="10"/></g>
<g stroke="#9a60c0" stroke-width="4" stroke-dasharray="4 4"><line x1="3676" y1="987" x2="3822" y2="987"/><line x1="3856" y1="987" x2="3995" y2="987"/></g>
<text x="3616" y="1062" font-size="60" textLength="446" lengthAdjust="spacingAndGlyphs">Hydrogen bond</text>
<g stroke="#70a8e0" stroke-width="5"><line x1="3653" y1="1170" x2="3732" y2="1254"/><line x1="3732" y1="1170" x2="3653" y2="1254"/></g>
<circle cx="3692" cy="1212" r="12" fill="#d8701a"/>
<text x="3800" y="1232" font-size="60" textLength="165" lengthAdjust="spacingAndGlyphs">Borax</text>
<ellipse cx="3692" cy="1360" rx="20" ry="22" fill="#1e8ee8"/>
<text x="3822" y="1382" font-size="60">H<tspan font-size="38" dy="12">2</tspan><tspan dy="-12">O</tspan></text>
<!-- lower box -->
<rect x="2552" y="1476" width="1556" height="526" fill="none" stroke="#8888aa" stroke-width="4" stroke-dasharray="8 6"/>
<g stroke="#8888bb" stroke-width="3" stroke-dasharray="14 10"><line x1="2552" y1="1476" x2="2390" y2="1690"/><line x1="2552" y1="2002" x2="2390" y2="1730"/></g>
<!-- mouse D -->
<g>
<path d="M2310 1560 q-20 -30 -40 0 q-30 40 -10 80 q-80 40 -100 130 q-20 50 20 70 q50 20 120 10 q80 10 120 -40 q60 -60 50 -120 q-20 -80 -110 -90 q-20 -40 -50 -40z" fill="#767676"/>
<ellipse cx="2245" cy="1700" rx="70" ry="55" fill="#6e6e6e"/>
<ellipse cx="2300" cy="1640" rx="40" ry="55" fill="#8a8a8a" transform="rotate(-20 2300 1640)"/>
<ellipse cx="2300" cy="1645" rx="22" ry="35" fill="#c9a0a8" transform="rotate(-20 2300 1645)"/>
<ellipse cx="2262" cy="1560" rx="26" ry="40" fill="#8a8a8a"/>
<circle cx="2158" cy="1733" r="8" fill="#111"/><ellipse cx="2180" cy="1765" rx="14" ry="10" fill="#f0a0a8"/>
<ellipse cx="2376" cy="1690" rx="26" ry="32" fill="#cc2233"/>
<path d="M2390 1770 q90 30 100 80 q10 40 -30 40" fill="none" stroke="#8a7a7a" stroke-width="14" stroke-linecap="round"/>
<path d="M2390 1770 q90 30 100 80 q10 40 -30 40" fill="none" stroke="#d0b0b0" stroke-width="8" stroke-linecap="round"/>
</g>
<!-- skin blocks D -->
<g id="sk1">
<path d="M2565 1502 l335 -5 l90 80 l-340 6z" fill="#f8d2cc"/>
<path d="M2565 1502 l85 81 l0 310 l-80 -23z" fill="#f8d8b0"/>
<rect x="2650" y="1580" width="343" height="8" fill="#f7941e"/>
<rect x="2650" y="1588" width="343" height="190" fill="#f9cfa6"/>
<path d="M2650 1760 q80 20 150 -10 q80 -10 193 -10" fill="none" stroke="#ef5a40" stroke-width="4"/>
<path d="M2650 1775 q80 20 150 -10 q80 -10 193 -10" fill="none" stroke="#5a70e0" stroke-width="4"/>
<path d="M2650 1790 q100 -20 180 -10 q100 -10 163 -15 l0 128 l-343 0z" fill="url(#fat)"/>
<path d="M2650 1790 q100 -20 180 -10 q100 -10 163 -15" fill="none" stroke="#fff" stroke-width="6"/>
</g>
<path d="M2700 1590 l240 -3 l-20 146 l-150 0z" fill="#b50e12"/>
<g fill="#3a6a20" stroke="#e0c020" stroke-width="3"><circle cx="2752" cy="1625" r="22"/><circle cx="2890" cy="1625" r="22"/><circle cx="2790" cy="1700" r="22"/></g>
<ellipse cx="2838" cy="1665" rx="45" ry="18" fill="#9aa2c0"/><ellipse cx="2830" cy="1625" rx="20" ry="10" fill="#9aa2c0"/>
<ellipse cx="2920" cy="1695" rx="12" ry="22" fill="#8a3a2a"/>
<path d="M3018 1712 l50 0" stroke="#d0631a" stroke-width="8"/><path d="M3064 1700 l18 12 l-18 12z" fill="#d0631a"/>
<use href="#sk1" transform="translate(530 0)"/>
<path d="M3230 1590 l240 -3 l-20 146 l-150 0z" fill="#b50e12"/>
<path d="M3205 1510 l190 0 l65 67 l-210 3z" fill="#1a1a28"/><path d="M3250 1580 l210 -3 l0 13 l-210 3z" fill="#2f6ee0"/>
<g fill="#f59a20"><path d="M3283 1610 l7 16 l7 -16z"/><path d="M3313 1610 l7 16 l7 -16z"/><path d="M3343 1610 l7 16 l7 -16z"/><path d="M3373 1610 l7 16 l7 -16z"/><path d="M3403 1610 l7 16 l7 -16z"/></g>
<g fill="#3e4a68"><ellipse cx="3300" cy="1665" rx="10" ry="17"/><ellipse cx="3332" cy="1660" rx="10" ry="17"/><ellipse cx="3364" cy="1655" rx="10" ry="17"/><ellipse cx="3400" cy="1660" rx="10" ry="17"/><ellipse cx="3310" cy="1700" rx="10" ry="17"/><ellipse cx="3345" cy="1700" rx="10" ry="17"/><ellipse cx="3380" cy="1698" rx="10" ry="17"/></g>
<path d="M3550 1712 l50 0" stroke="#d0631a" stroke-width="8"/><path d="M3596 1700 l18 12 l-18 12z" fill="#d0631a"/>
<use href="#sk1" transform="translate(1050 0)"/>
<g fill="none" stroke="#b05040" stroke-width="6"><path d="M3735 1590 q5 60 25 110"/><path d="M3812 1590 q5 60 20 110"/><path d="M3880 1590 q5 60 25 110"/></g>
<g fill="#9a4030"><ellipse cx="3765" cy="1710" rx="12" ry="20"/><ellipse cx="3840" cy="1715" rx="12" ry="20"/><ellipse cx="3910" cy="1718" rx="12" ry="20"/></g>
<g font-size="62" fill="#000">
<text x="2563" y="1976" textLength="475" lengthAdjust="spacingAndGlyphs">Wound infection</text>
<text x="3064" y="1976" textLength="565" lengthAdjust="spacingAndGlyphs">Hydrogel treatment</text>
<text x="3656" y="1976" textLength="439" lengthAdjust="spacingAndGlyphs">Wound Healing</text>
</g>
</svg>
</body></html>
